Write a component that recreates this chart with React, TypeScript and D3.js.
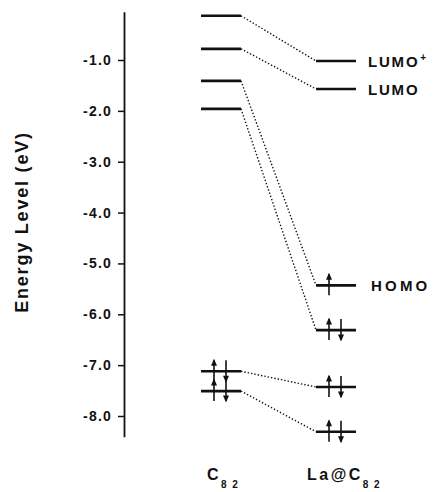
import React, { useEffect, useRef } from "react";
import * as d3 from "d3";

// energy levels (eV)
const columns = ["C82", "La@C82"];
const c82Levels = [-0.13, -0.78, -1.41, -1.96, -7.12, -7.51];
const c82Electrons = [0, 0, 0, 0, 2, 2];
const laLevels = [-1.02, -1.57, -5.43, -6.31, -7.43, -8.31];
const laElectrons = [0, 0, 1, 2, 2, 2];
const laLabels = ["LUMO", "LUMO", "HOMO", "", "", ""];
const laSup = ["+", "", "", "", "", ""];
const yTicks = [-1, -2, -3, -4, -5, -6, -7, -8];

const W = 434;
const H = 492;
const FONT = "'Liberation Sans', Arial, Helvetica, sans-serif";

const App = () => {
  const svgRef = useRef<SVGSVGElement | null>(null);

  useEffect(() => {
    const svg = d3.select(svgRef.current);
    svg.selectAll("*").remove();

    const y = d3.scaleLinear().domain([-1, -8]).range([60, 416]);
    const x = d3.scalePoint<string>().domain(columns).range([221, 336]);
    const half = 20;

    // axis
    const axisScale = y.copy().domain([-0.05, -8.41]).range([y(-0.05), y(-8.41)]);
    const axisX = 124;
    const g = svg
      .append("g")
      .attr("transform", `translate(${axisX},0)`)
      .call(
        d3
          .axisLeft(axisScale)
          .tickValues(yTicks)
          .tickSize(6)
          .tickSizeOuter(0)
          .tickPadding(6)
          .tickFormat((d) => (+d).toFixed(1))
      );
    g.select(".domain").attr("stroke", "#111").attr("stroke-width", 1.8);
    g.selectAll(".tick line").attr("stroke", "#111").attr("stroke-width", 1.5);
    g.selectAll(".tick text")
      .attr("fill", "#111")
      .attr("font-family", FONT)
      .attr("font-weight", "bold")
      .attr("font-size", 14)
      .attr("letter-spacing", 1.2);

    svg
      .append("text")
      .attr("transform", "translate(28,222) rotate(-90)")
      .attr("text-anchor", "middle")
      .attr("font-family", FONT)
      .attr("font-weight", "bold")
      .attr("font-size", 18)
      .attr("letter-spacing", 1.8)
      .attr("fill", "#111")
      .text("Energy Level (eV)");

    const xc = x("C82")!;
    const xl = x("La@C82")!;

    // dotted connectors
    svg
      .append("g")
      .selectAll("line")
      .data(c82Levels)
      .join("line")
      .attr("x1", xc + half)
      .attr("y1", (d) => y(d))
      .attr("x2", xl - half)
      .attr("y2", (d, i) => y(laLevels[i]))
      .attr("stroke", "#111")
      .attr("stroke-width", 1.4)
      .attr("stroke-dasharray", "1.4,2");

    // level lines
    const drawLevels = (levels: number[], cx: number) =>
      svg
        .append("g")
        .selectAll("line")
        .data(levels)
        .join("line")
        .attr("x1", cx - half)
        .attr("x2", cx + half)
        .attr("y1", (d) => y(d))
        .attr("y2", (d) => y(d))
        .attr("stroke", "#111")
        .attr("stroke-width", 2.7);
    drawLevels(c82Levels, xc);
    drawLevels(laLevels, xl);

    // electron arrows
    const arrow = (ax: number, ay: number, up: boolean) => {
      const top = ay - 11;
      const bot = ay + 10;
      svg
        .append("line")
        .attr("x1", ax)
        .attr("x2", ax)
        .attr("y1", top)
        .attr("y2", bot)
        .attr("stroke", "#111")
        .attr("stroke-width", 1.6);
      const tip = up ? top - 1.5 : bot + 1.5;
      const base = up ? tip + 7 : tip - 7;
      svg
        .append("path")
        .attr("d", `M${ax},${tip}L${ax - 3},${base}L${ax + 3},${base}Z`)
        .attr("fill", "#111");
    };
    const drawElectrons = (levels: number[], counts: number[], cx: number) =>
      levels.forEach((lv, i) => {
        if (counts[i] >= 1) arrow(cx - 7, y(lv), true);
        if (counts[i] >= 2) arrow(cx + 5, y(lv), false);
      });
    drawElectrons(c82Levels, c82Electrons, xc);
    drawElectrons(laLevels, laElectrons, xl);

    // orbital labels
    const labels = svg
      .append("g")
      .selectAll("text")
      .data(laLevels.map((v, i) => ({ v, t: laLabels[i], s: laSup[i] })).filter((d) => d.t))
      .join("text")
      .attr("x", (d) => (d.t === "HOMO" ? xl + 35 : xl + 32))
      .attr("y", (d) => y(d.v) + 6)
      .attr("font-family", FONT)
      .attr("font-weight", "bold")
      .attr("font-size", 15)
      .attr("letter-spacing", (d) => (d.t === "HOMO" ? 3.2 : 1.8))
      .attr("fill", "#111");
    labels.append("tspan").text((d) => d.t);
    labels
      .filter((d) => !!d.s)
      .append("tspan")
      .attr("dx", 1)
      .attr("dy", -6)
      .attr("font-size", 10)
      .text((d) => d.s);

    // column labels
    const colLabel = (cx: number, main: string, dx: number) => {
      const t = svg
        .append("text")
        .attr("x", cx + dx)
        .attr("y", 480)
        .attr("font-family", FONT)
        .attr("font-weight", "bold")
        .attr("font-size", 16)
        .attr("letter-spacing", 2.5)
        .attr("fill", "#111");
      t.append("tspan").text(main);
      t.append("tspan")
        .attr("dy", 8)
        .attr("font-size", 10)
        .attr("letter-spacing", 0)
        .text("8\u00a0\u00a02");
    };
    colLabel(xc, "C", -14);
    colLabel(xl, "La@C", -29);
  }, []);

  return (
    <svg
      ref={svgRef}
      width={W}
      height={H}
      style={{ position: "absolute", left: 0, top: 0, background: "#fff" }}
    />
  );
};

export default App;
